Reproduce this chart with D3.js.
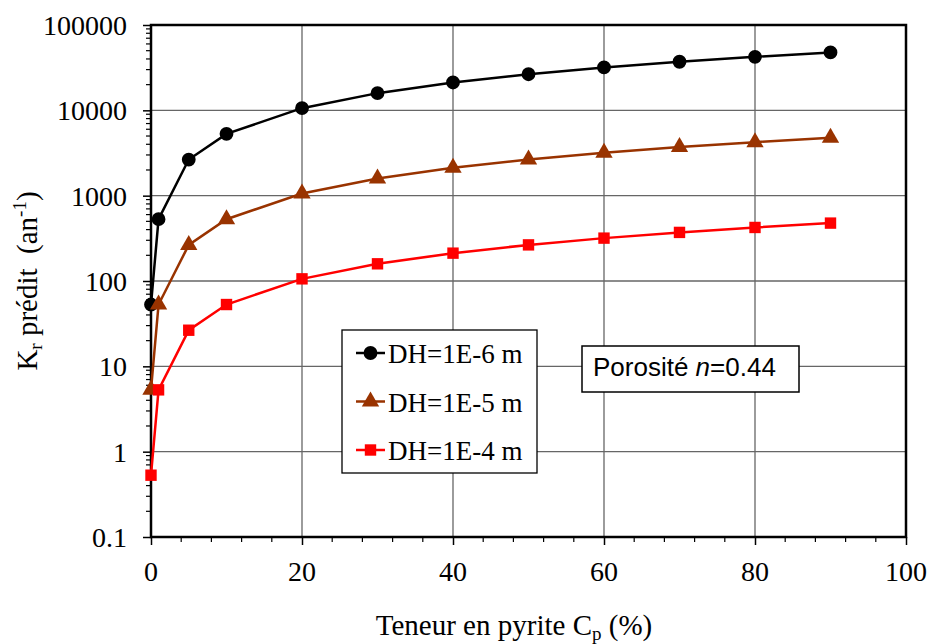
<!DOCTYPE html>
<html>
<head>
<meta charset="utf-8">
<script src="https://cdn.jsdelivr.net/npm/d3@7"></script>
<style>
  body { margin: 0; background: #fff; }
  svg { display: block; }
  text { white-space: pre; }
  .serif { font-family: "Liberation Serif", "Times New Roman", serif; }
  .sans { font-family: "Liberation Sans", Arial, sans-serif; }
</style>
</head>
<body>
<svg id="chart" width="930" height="644"></svg>
<script>
// teneur en pyrite (%)
const teneur = [0, 1, 5, 10, 20, 30, 40, 50, 60, 70, 80, 90];
// K_r prédit (an-1) pour chaque diamètre
const dh6 = [53, 530, 2650, 5300, 10600, 15900, 21200, 26500, 31800, 37100, 42400, 47700];
const dh5 = [5.3, 53, 265, 530, 1060, 1590, 2120, 2650, 3180, 3710, 4240, 4770];
const dh4 = [0.53, 5.3, 26.5, 53, 106, 159, 212, 265, 318, 371, 424, 477];
const yTicks = [0.1, 1, 10, 100, 1000, 10000, 100000];
const yTickLabels = ["0.1", "1", "10", "100", "1000", "10000", "100000"];
const xTicks = [0, 20, 40, 60, 80, 100];
const legendLabels = ["DH=1E-6 m", "DH=1E-5 m", "DH=1E-4 m"];

const svg = d3.select("#chart");
const margin = { top: 25, right: 24, bottom: 107, left: 151 };
const width = 930 - margin.left - margin.right;
const height = 644 - margin.top - margin.bottom;

const x = d3.scaleLinear().domain([0, 100]).range([0, width]);
const y = d3.scaleLog().domain([0.1, 100000]).range([height, 0]);

const g = svg.append("g").attr("transform", `translate(${margin.left},${margin.top})`);

// grille
g.selectAll(".hgrid").data(yTicks).enter().append("line")
  .attr("x1", 0).attr("x2", width)
  .attr("y1", d => y(d)).attr("y2", d => y(d))
  .attr("stroke", "#666").attr("stroke-width", 1.3);
g.selectAll(".vgrid").data(xTicks).enter().append("line")
  .attr("x1", d => x(d)).attr("x2", d => x(d))
  .attr("y1", 0).attr("y2", height)
  .attr("stroke", "#666").attr("stroke-width", 1.3);

// graduations mineures
const minorY = [];
for (let e = -1; e < 5; e++) for (let k = 2; k <= 9; k++) minorY.push(k * Math.pow(10, e));
g.selectAll(".my").data(minorY).enter().append("line")
  .attr("x1", -5).attr("x2", 0)
  .attr("y1", d => y(d)).attr("y2", d => y(d))
  .attr("stroke", "#000").attr("stroke-width", 1.2);
const minorX = d3.range(0, 101, 4).filter(d => d % 20 !== 0);
g.selectAll(".mx").data(minorX).enter().append("line")
  .attr("x1", d => x(d)).attr("x2", d => x(d))
  .attr("y1", height).attr("y2", height + 5)
  .attr("stroke", "#000").attr("stroke-width", 1.2);

// axes (traits des graduations)
const gy = g.append("g").call(d3.axisLeft(y).tickValues(yTicks).tickFormat("").tickSize(8));
const gx = g.append("g").attr("transform", `translate(0,${height})`)
  .call(d3.axisBottom(x).tickValues(xTicks).tickFormat("").tickSize(8));
[gy, gx].forEach(ax => {
  ax.select(".domain").remove();
  ax.selectAll(".tick line").attr("stroke", "#000").attr("stroke-width", 1.5);
});

// étiquettes des graduations
g.selectAll(".ylab").data(yTicks).enter().append("text")
  .attr("class", "serif")
  .attr("x", -24).attr("y", d => y(d) + 10)
  .attr("text-anchor", "end").attr("font-size", 28).attr("fill", "#000")
  .text((d, i) => yTickLabels[i]);
g.selectAll(".xlab").data(xTicks).enter().append("text")
  .attr("class", "serif")
  .attr("x", d => x(d)).attr("y", height + 44)
  .attr("text-anchor", "middle").attr("font-size", 28).attr("fill", "#000")
  .text(d => d);

// cadre
g.append("rect").attr("width", width).attr("height", height)
  .attr("fill", "none").attr("stroke", "#000").attr("stroke-width", 2.5);

// courbes
const series = [
  { values: dh6, color: "#000000", marker: "circle" },
  { values: dh5, color: "#993300", marker: "triangle" },
  { values: dh4, color: "#ff0000", marker: "square" }
];
const line = d3.line().x(d => x(d[0])).y(d => y(d[1]));
const symbolOf = {
  circle: d3.symbol().type(d3.symbolCircle).size(150),
  triangle: d3.symbol().type(d3.symbolTriangle).size(130),
  square: d3.symbol().type(d3.symbolSquare).size(130)
};

series.forEach(s => {
  const pts = teneur.map((t, i) => [t, s.values[i]]);
  g.append("path").datum(pts).attr("d", line)
    .attr("fill", "none").attr("stroke", s.color).attr("stroke-width", 2.5);
  g.selectAll(null).data(pts).enter().append("path")
    .attr("d", symbolOf[s.marker])
    .attr("transform", d => `translate(${x(d[0])},${y(d[1])})`)
    .attr("fill", s.color);
});

// légende
const lg = svg.append("g").attr("transform", "translate(342,330)");
lg.append("rect").attr("width", 195).attr("height", 143)
  .attr("fill", "#fff").attr("stroke", "#000").attr("stroke-width", 1.3);
series.forEach((s, i) => {
  const yy = 23 + i * 48.5;
  lg.append("line").attr("x1", 14).attr("x2", 43).attr("y1", yy).attr("y2", yy)
    .attr("stroke", s.color).attr("stroke-width", 2.5);
  lg.append("path").attr("d", symbolOf[s.marker])
    .attr("transform", `translate(28.5,${yy})`).attr("fill", s.color);
  lg.append("text").attr("class", "serif").attr("x", 46).attr("y", yy + 10)
    .attr("font-size", 27).attr("fill", "#000").text(legendLabels[i]);
});

// boîte porosité
const pg = svg.append("g").attr("transform", "translate(582,346)");
pg.append("rect").attr("width", 217).attr("height", 46)
  .attr("fill", "#fff").attr("stroke", "#000").attr("stroke-width", 1.5);
const pt = pg.append("text").attr("class", "sans").attr("x", 11).attr("y", 30)
  .attr("font-size", 26).attr("fill", "#000");
pt.append("tspan").text("Porosité ");
pt.append("tspan").attr("font-style", "italic").text("n");
pt.append("tspan").text("=0.44");

// titres des axes
const xt = svg.append("text").attr("class", "serif")
  .attr("x", 514).attr("y", 635).attr("text-anchor", "middle")
  .attr("font-size", 29).attr("fill", "#000");
xt.append("tspan").text("Teneur en pyrite C");
xt.append("tspan").attr("font-size", 19).attr("dy", 5).text("p");
xt.append("tspan").attr("dy", -5).text(" (%)");

const yt = svg.append("text").attr("class", "serif")
  .attr("transform", "translate(37,281) rotate(-90)")
  .attr("text-anchor", "middle")
  .attr("font-size", 29).attr("fill", "#000");
yt.append("tspan").text("K");
yt.append("tspan").attr("font-size", 19).attr("dy", 5).text("r");
yt.append("tspan").attr("dy", -5).text(" prédit  (an");
yt.append("tspan").attr("font-size", 19).attr("dy", -11).text("-1");
yt.append("tspan").attr("dy", 11).text(")");
</script>
</body>
</html>
